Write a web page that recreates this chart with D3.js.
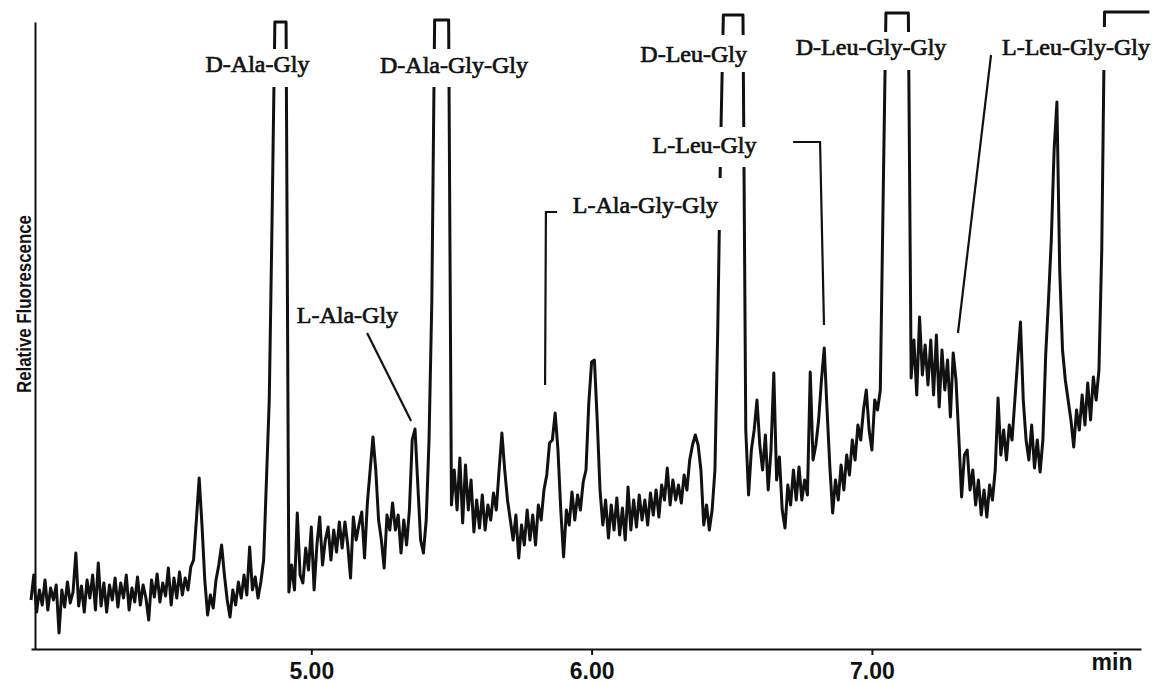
<!DOCTYPE html>
<html>
<head>
<meta charset="utf-8">
<script src="https://cdn.jsdelivr.net/npm/d3@7"></script>
<style>
  html, body { margin: 0; padding: 0; background: #fff; }
  svg { display: block; }
  .peak-label { font-family: "Liberation Serif", "Times New Roman", serif; font-size: 24px; fill: #111; stroke: #111; stroke-width: 0.7px; }
  .tick text, .unit { font-family: "Liberation Sans", Arial, sans-serif; font-weight: bold; font-size: 23px; fill: #111; }
  .ylabel { font-family: "Liberation Sans", Arial, sans-serif; font-weight: bold; font-size: 20px; fill: #111; }
</style>
</head>
<body>
<div id="chart"></div>
<script>
// detector trace, sampled every 0.01 min from 4.00 min (relative fluorescence, arbitrary units)
const startTime = 4.00;
const timeStep = 0.01;
const signal = [
  49, 74, 37, 59, 44, 69, 39, 61, 49, 64,
  16, 59, 42, 67, 46, 57, 96, 43, 63, 37,
  69, 51, 74, 39, 86, 43, 66, 37, 64, 49,
  71, 42, 66, 51, 74, 39, 61, 47, 72, 44,
  64, 51, 29, 69, 52, 75, 47, 66, 53, 81,
  44, 71, 51, 77, 54, 71, 59, 82, 89, 129,
  171, 124, 69, 34, 54, 41, 69, 84, 104, 74,
  49, 32, 59, 44, 67, 51, 74, 54, 102, 59,
  72, 51, 67, 89, 169, 249, 429, 627, 627, 627,
  627, 627, 57, 84, 59, 136, 74, 66, 101, 79,
  122, 59, 104, 132, 84, 109, 122, 89, 119, 97,
  127, 101, 127, 104, 71, 132, 109, 124, 137, 91,
  146, 179, 212, 179, 129, 109, 81, 134, 119, 146,
  119, 134, 96, 129, 104, 139, 209, 220, 164, 109,
  96, 129, 209, 349, 629, 629, 629, 629, 629, 629,
  144, 179, 139, 191, 126, 184, 139, 169, 117, 149,
  121, 154, 119, 144, 129, 156, 139, 179, 216, 179,
  149, 129, 109, 134, 91, 124, 104, 139, 109, 134,
  104, 144, 129, 159, 174, 206, 209, 236, 199, 139,
  92, 139, 124, 157, 129, 154, 139, 167, 179, 246,
  287, 289, 229, 159, 124, 149, 111, 144, 119, 151,
  114, 141, 109, 162, 119, 149, 122, 154, 129, 149,
  124, 156, 134, 159, 132, 164, 149, 181, 144, 169,
  149, 164, 146, 174, 159, 189, 204, 214, 204, 179,
  124, 144, 119, 139, 179, 319, 499, 634, 634, 634,
  634, 634, 634, 634, 634, 219, 154, 199, 219, 249,
  204, 179, 214, 159, 199, 276, 169, 192, 139, 121,
  164, 144, 179, 149, 182, 149, 169, 154, 277, 189,
  204, 229, 269, 301, 239, 182, 136, 169, 149, 184,
  159, 194, 174, 209, 189, 224, 209, 239, 259, 219,
  199, 249, 239, 259, 449, 636, 636, 636, 636, 636,
  636, 636, 636, 636, 271, 309, 254, 332, 274, 304,
  264, 309, 254, 314, 242, 299, 259, 289, 232, 296,
  269, 212, 152, 194, 199, 159, 179, 144, 169, 134,
  159, 132, 164, 149, 179, 251, 194, 219, 189, 224,
  209, 249, 289, 327, 249, 209, 189, 224, 181, 209,
  177, 209, 294, 349, 409, 499, 547, 379, 299, 269,
  249, 229, 202, 239, 219, 254, 224, 266, 229, 272,
  249, 279, 399, 637, 637, 637, 637, 637, 637, 637,
  637, 637, 637, 637, 637, 637, 637, 637, 637, 637
];

const timeTicks = [5, 6, 7];
const peakNames = ["D-Ala-Gly", "L-Ala-Gly", "D-Ala-Gly-Gly", "L-Ala-Gly-Gly",
                   "D-Leu-Gly", "L-Leu-Gly", "D-Leu-Gly-Gly", "L-Leu-Gly-Gly"];

const app = () => {
    const width = 1155;
    const height = 684;

    const x = d3.scaleLinear().domain([4.0, 7.96]).range([31, 1141]);
    const y = d3.scaleLinear().domain([0, 627]).range([649, 22]);

    const svg = d3.select("#chart")
        .append("svg")
        .attr("width", width)
        .attr("height", height);

    const points = signal.map((v, i) => [startTime + i * timeStep, v]);

    // trace
    svg.append("path")
        .datum(points)
        .attr("fill", "none")
        .attr("stroke", "#111")
        .attr("stroke-width", 3)
        .attr("stroke-linejoin", "round")
        .attr("d", d3.line().x(d => x(d[0])).y(d => y(d[1])));

    // where each name sits (time, signal of the baseline) and how much white it clears around it
    const placement = {
        "D-Ala-Gly":     { t: 4.808, v: 577, top: 23, bottom: 15, left: 3, right: 3 },
        "L-Ala-Gly":     { t: 5.129, v: 326, top: 20, bottom: 6, left: 2, right: 2 },
        "D-Ala-Gly-Gly": { t: 5.509, v: 576, top: 24, bottom: 14, left: 3, right: 3 },
        "L-Ala-Gly-Gly": { t: 6.192, v: 436, top: 35, bottom: 17, left: 4, right: 7 },
        "D-Leu-Gly":     { t: 6.364, v: 587, top: 27, bottom: 10, left: 3, right: 3 },
        "L-Leu-Gly":     { t: 6.403, v: 496, top: 26, bottom: 14, left: 3, right: 3 },
        "D-Leu-Gly-Gly": { t: 6.997, v: 594, top: 23, bottom: 15, left: 3, right: 3 },
        "L-Leu-Gly-Gly": { t: 7.728, v: 594, top: 28, bottom: 15, left: 4, right: 4 }
    };

    // pointer lines from a name to its small peak
    const leaders = {
        "L-Ala-Gly":     [[5.199, 316], [5.356, 228]],
        "L-Ala-Gly-Gly": [[5.877, 437], [5.837, 437], [5.834, 264]],
        "L-Leu-Gly":     [[6.719, 507], [6.815, 507], [6.829, 324]],
        "L-Leu-Gly-Gly": [[7.425, 594], [7.307, 316]]
    };

    const leaderLine = d3.line().x(d => x(d[0])).y(d => y(d[1]));
    svg.append("g")
        .selectAll("path")
        .data(Object.values(leaders))
        .enter().append("path")
        .attr("fill", "none")
        .attr("stroke", "#111")
        .attr("stroke-width", 2.2)
        .attr("d", leaderLine);

    const labels = svg.append("g");
    peakNames.forEach(name => {
        const p = placement[name];
        const g = labels.append("g");
        const text = g.append("text")
            .attr("class", "peak-label")
            .attr("x", x(p.t))
            .attr("y", y(p.v))
            .attr("text-anchor", "middle")
            .text(name);
        const b = text.node().getBBox();
        g.insert("rect", "text")
            .attr("x", b.x - p.left)
            .attr("y", y(p.v) - p.top)
            .attr("width", b.width + p.left + p.right)
            .attr("height", p.top + p.bottom)
            .attr("fill", "#fff");
    });

    // axes
    const xAxis = svg.append("g")
        .attr("transform", `translate(0,${y(0)})`)
        .call(d3.axisBottom(x)
            .tickValues(timeTicks)
            .tickFormat(d3.format(".2f"))
            .tickSize(6)
            .tickSizeOuter(0)
            .tickPadding(8));
    xAxis.select(".domain").attr("stroke", "#111").attr("stroke-width", 2);
    xAxis.selectAll(".tick line").attr("stroke", "#111").attr("stroke-width", 2);
    xAxis.attr("font-size", null).attr("font-family", null);

    const yAxis = svg.append("g")
        .attr("transform", "translate(35,0)")
        .call(d3.axisLeft(y).tickValues([]).tickSizeOuter(0));
    yAxis.select(".domain").attr("stroke", "#111").attr("stroke-width", 2);

    svg.append("text")
        .attr("class", "unit")
        .attr("x", 1112)
        .attr("y", 670)
        .attr("text-anchor", "middle")
        .text("min");

    svg.append("text")
        .attr("class", "ylabel")
        .attr("transform", "translate(31,304) rotate(-90)")
        .attr("text-anchor", "middle")
        .attr("textLength", 178)
        .attr("lengthAdjust", "spacingAndGlyphs")
        .text("Relative Fluorescence");
};

window.addEventListener("load", function() {
    app();
});
</script>
</body>
</html>
